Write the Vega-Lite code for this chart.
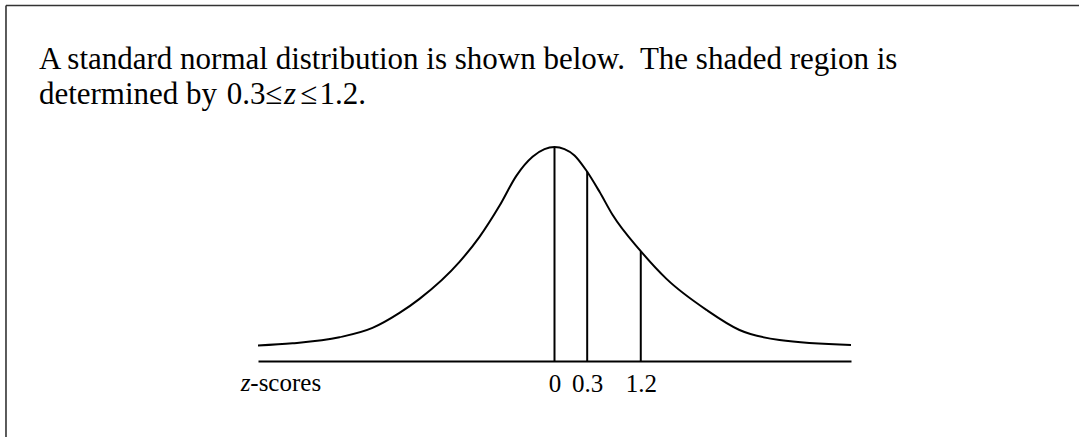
{
  "$schema": "https://vega.github.io/schema/vega-lite/v6.json",
  "width": 593,
  "height": 214,
  "autosize": {"type": "none"},
  "padding": {"left": 258, "top": 147, "right": 228, "bottom": 76},
  "background": "white",
  "config": {"view": {"stroke": null}},
  "resolve": {"axis": {"x": "independent", "y": "independent"}},
  "datasets": {
    "curve": [
      {"z": -7, "density": 0.029},
      {"z": -5.866, "density": 0.0331},
      {"z": -4.423, "density": 0.0444},
      {"z": -3.486, "density": 0.0618},
      {"z": -2.771, "density": 0.0898},
      {"z": -2.275, "density": 0.1161},
      {"z": -1.377, "density": 0.1853},
      {"z": -0.982, "density": 0.2321},
      {"z": -0.631, "density": 0.2901},
      {"z": -0.372, "density": 0.3466},
      {"z": -0.17, "density": 0.3818},
      {"z": -0.0552, "density": 0.3961},
      {"z": 0, "density": 0.4},
      {"z": 0.0552, "density": 0.3961},
      {"z": 0.1488, "density": 0.3843},
      {"z": 0.291, "density": 0.3556},
      {"z": 0.474, "density": 0.3163},
      {"z": 0.681, "density": 0.2733},
      {"z": 1.195, "density": 0.2059},
      {"z": 1.742, "density": 0.1535},
      {"z": 2.695, "density": 0.0955},
      {"z": 3.568, "density": 0.058},
      {"z": 4.72, "density": 0.0393},
      {"z": 7, "density": 0.0299}
    ],
    "cuts": [
      {"z": 0, "top": 0.4},
      {"z": 0.3, "top": 0.354},
      {"z": 1.2, "top": 0.205}
    ],
    "frame": [
      {"x": -16.856, "x2": 40, "y": 0.6645, "y2": 0.6645},
      {"x": -16.856, "x2": -16.856, "y": 0.6645, "y2": -0.3}
    ],
    "prose": [
      {"text": "A standard normal distribution is shown below.\u00a0 The shaded region is", "x": -15.43, "y": 0.5449},
      {"text": "determined by", "x": -15.43, "y": 0.4804},
      {"text": "0.3", "x": -8.079, "y": 0.4804},
      {"text": "≤", "x": -6.748, "y": 0.4804},
      {"text": "≤", "x": -5.612, "y": 0.4804},
      {"text": "1.2.", "x": -5.022, "y": 0.4804}
    ],
    "proseMath": [
      {"text": "z", "x": -6.14, "y": 0.4804}
    ],
    "caption": [
      {"text": "-scores", "x": -7.261, "y": -0.0561}
    ],
    "captionMath": [
      {"text": "z", "x": -7.591, "y": -0.0561}
    ]
  },
  "layer": [
    {
      "data": {"name": "frame"},
      "mark": {"type": "rule", "stroke": "#333333", "strokeWidth": 1.6},
      "encoding": {
        "x": {"field": "x", "type": "quantitative", "axis": null,
              "scale": {"type": "pow", "exponent": 0.7, "domain": [-7, 7], "nice": false, "zero": false}},
        "x2": {"field": "x2"},
        "y": {"field": "y", "type": "quantitative", "axis": null,
              "scale": {"domain": [0, 0.4], "nice": false, "zero": false}},
        "y2": {"field": "y2"}
      }
    },
    {
      "data": {"name": "curve"},
      "mark": {"type": "line", "interpolate": "monotone", "stroke": "black", "strokeWidth": 2},
      "encoding": {
        "x": {
          "field": "z", "type": "quantitative",
          "scale": {"type": "pow", "exponent": 0.7, "domain": [-7, 7], "nice": false, "zero": false},
          "axis": {
            "values": [0, 0.3, 1.2],
            "labelExpr": "format(datum.value, '~g')",
            "title": null,
            "grid": false,
            "ticks": false,
            "tickSize": 0,
            "domain": true,
            "domainColor": "black",
            "domainWidth": 2,
            "labelPadding": 30,
            "labelBaseline": "alphabetic",
            "labelFont": "Liberation Serif",
            "labelFontSize": 25,
            "labelColor": "black",
            "labelOverlap": false,
            "labelFlush": false
          }
        },
        "y": {"field": "density", "type": "quantitative", "axis": null,
              "scale": {"domain": [0, 0.4], "nice": false, "zero": false}}
      }
    },
    {
      "data": {"name": "cuts"},
      "mark": {"type": "rule", "stroke": "black", "strokeWidth": 2},
      "encoding": {
        "x": {"field": "z", "type": "quantitative", "axis": null,
              "scale": {"type": "pow", "exponent": 0.7, "domain": [-7, 7], "nice": false, "zero": false}},
        "y": {"field": "top", "type": "quantitative", "axis": null,
              "scale": {"domain": [0, 0.4], "nice": false, "zero": false}},
        "y2": {"datum": 0}
      }
    },
    {
      "data": {"name": "prose"},
      "mark": {"type": "text", "align": "left", "baseline": "alphabetic", "font": "Liberation Serif", "fontSize": 31, "fill": "black"},
      "encoding": {
        "x": {"field": "x", "type": "quantitative", "axis": null,
              "scale": {"type": "pow", "exponent": 0.7, "domain": [-7, 7], "nice": false, "zero": false}},
        "y": {"field": "y", "type": "quantitative", "axis": null,
              "scale": {"domain": [0, 0.4], "nice": false, "zero": false}},
        "text": {"field": "text"}
      }
    },
    {
      "data": {"name": "proseMath"},
      "mark": {"type": "text", "align": "left", "baseline": "alphabetic", "font": "Liberation Serif", "fontSize": 31, "fontStyle": "italic", "fill": "black"},
      "encoding": {
        "x": {"field": "x", "type": "quantitative", "axis": null,
              "scale": {"type": "pow", "exponent": 0.7, "domain": [-7, 7], "nice": false, "zero": false}},
        "y": {"field": "y", "type": "quantitative", "axis": null,
              "scale": {"domain": [0, 0.4], "nice": false, "zero": false}},
        "text": {"field": "text"}
      }
    },
    {
      "data": {"name": "caption"},
      "mark": {"type": "text", "align": "left", "baseline": "alphabetic", "font": "Liberation Serif", "fontSize": 25, "fill": "black"},
      "encoding": {
        "x": {"field": "x", "type": "quantitative", "axis": null,
              "scale": {"type": "pow", "exponent": 0.7, "domain": [-7, 7], "nice": false, "zero": false}},
        "y": {"field": "y", "type": "quantitative", "axis": null,
              "scale": {"domain": [0, 0.4], "nice": false, "zero": false}},
        "text": {"field": "text"}
      }
    },
    {
      "data": {"name": "captionMath"},
      "mark": {"type": "text", "align": "left", "baseline": "alphabetic", "font": "Liberation Serif", "fontSize": 25, "fontStyle": "italic", "fill": "black"},
      "encoding": {
        "x": {"field": "x", "type": "quantitative", "axis": null,
              "scale": {"type": "pow", "exponent": 0.7, "domain": [-7, 7], "nice": false, "zero": false}},
        "y": {"field": "y", "type": "quantitative", "axis": null,
              "scale": {"domain": [0, 0.4], "nice": false, "zero": false}},
        "text": {"field": "text"}
      }
    }
  ]
}
